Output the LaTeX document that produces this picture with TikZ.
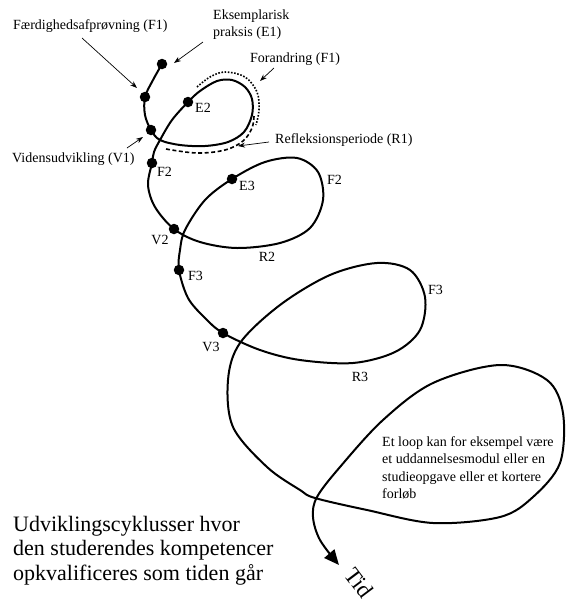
\documentclass[tikz,border=0pt]{standalone}
\usepackage{fontspec}
\setmainfont{Liberation Serif}
\usetikzlibrary{arrows.meta}
\begin{document}
\begin{tikzpicture}[x=1pt,y=-1pt,
  curve/.style={line width=2pt, line cap=round, line join=round},
  dot/.style={circle, fill, inner sep=0pt, minimum size=10.5pt},
  lbl/.style={font=\fontsize{14}{17}\selectfont, inner sep=0pt, align=left},
  pointer/.style={line width=0.7pt, -{Stealth[length=7pt,width=5pt]}},
  dashline/.style={line width=1.6pt, dash pattern=on 4pt off 2.5pt},
  dotline/.style={line width=1.6pt, dash pattern=on 1.6pt off 1.6pt}]
\useasboundingbox (0,0) rectangle (566,603);
% points on the curve
\coordinate (e1) at (162,64);
\coordinate (f1) at (145,97);
\coordinate (v1) at (151,130);
\coordinate (e2) at (188,102);
\coordinate (f2) at (152,163);
\coordinate (v2) at (174,229);
\coordinate (e3) at (232,179);
\coordinate (f3) at (179,270);
\coordinate (v3) at (223,333);
\coordinate (tip) at (339,565);
% main curve
\draw[curve, -{Triangle[length=15pt,width=13pt]}] plot[smooth, tension=0.55] coordinates {
 (e1) (153,80) (f1) (145,115) (v1) (160,140) (180,145) (205,146) (228,142)
 (244,132) (252,115) (252,99) (245,87) (232,80) (217,81) (200,91) (e2)
 (172,120) (160,140) (154,152) (f2) (148,185) (155,207) (v2) (200,242)
 (237,248) (280,243) (310,228) (323,200) (318,172) (297,158) (265,162) (e3)
 (205,200) (185,230) (180,250) (f3) (188,298) (205,318) (v3) (260,350)
 (300,360) (353,363) (395,352) (420,330) (425,297) (410,270) (377,263)
 (330,275) (280,305) (240,343) (228,380) (233,427) (267,467) (300,490)
 (315,498) (367,510) (433,523) (500,517) (533,497) (560,463) (563,413)
 (547,380) (500,365) (433,383) (383,420) (340,467) (317,497) (313,517)
 (320,540) (tip)};
% dashed and dotted companions
\draw[dashline] plot[smooth, tension=0.6] coordinates {(166,149) (197,153) (225,150) (243,141) (252,128) (254,116)};
\draw[dotline] plot[smooth, tension=0.6] coordinates {(197,87) (210,77) (225,72) (245,77) (257,92) (259,110) (256,125)};
% dots
\foreach \p in {e1,f1,v1,e2,f2,v2,e3,f3,v3} \node[dot] (d\p) at (\p) {};
% labels with pointers
\node[lbl, anchor=west] (lf1) at (13,26) {Færdighedsafprøvning (F1)};
\coordinate (pf1s) at (82,38); \coordinate (pf1e) at (137,88);
\draw[pointer] (pf1s) -- (pf1e);
\node[lbl, anchor=north west] (le1) at (213,10) {Eksemplarisk\\praksis (E1)};
\coordinate (pe1s) at (203,42); \coordinate (pe1e) at (174,63);
\draw[pointer] (pe1s) -- (pe1e);
\node[lbl, anchor=west] (lfo) at (250,59) {Forandring (F1)};
\coordinate (pfos) at (274,68); \coordinate (pfoe) at (260,81);
\draw[pointer] (pfos) -- (pfoe);
\node[lbl, anchor=west] (lr1) at (275,140) {Refleksionsperiode (R1)};
\coordinate (pr1s) at (269,142); \coordinate (pr1e) at (238,146);
\draw[pointer] (pr1s) -- (pr1e);
\node[lbl, anchor=west] (lv1) at (12,159) {Vidensudvikling (V1)};
\coordinate (pv1s) at (127,148); \coordinate (pv1e) at (143,137);
\draw[pointer] (pv1s) -- (pv1e);
% dot labels
\node[lbl, anchor=west] (te2) at (195,108) {E2};
\node[lbl, anchor=west] (tf2) at (157,172) {F2};
\node[lbl, anchor=west] (tf2b) at (327,180) {F2};
\node[lbl, anchor=west] (te3) at (239,186) {E3};
\node[lbl] (tv2) at (160,240) {V2};
\node[lbl] (tr2) at (267,257) {R2};
\node[lbl, anchor=west] (tf3) at (188,276) {F3};
\node[lbl] (tv3) at (211,347) {V3};
\node[lbl] (tr3) at (360,377) {R3};
\node[lbl, anchor=west] (tf3b) at (428,290) {F3};
% texts
\node[font=\fontsize{14}{17.5}\selectfont, inner sep=0pt, align=left, anchor=north west] (loop) at (382,436)
 {Et loop kan for eksempel være\\et uddannelsesmodul eller en\\studieopgave eller et kortere\\forløb};
\node[font=\fontsize{22}{24.5}\selectfont, inner sep=0pt, align=left, anchor=north west] (main) at (13,516)
 {Udviklingscyklusser hvor\\den studerendes kompetencer\\opkvalificeres som tiden går};
\node[font=\fontsize{23}{24}\selectfont, inner sep=0pt, rotate=-53] (tid) at (359,583) {Tid};
\end{tikzpicture}
\end{document}
